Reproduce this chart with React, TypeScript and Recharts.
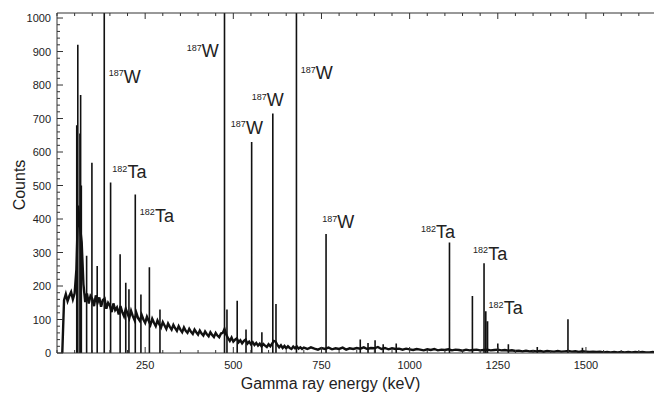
import React from 'react';
import { ComposedChart, Line, Scatter, XAxis, YAxis, Label } from 'recharts';

// Background continuum: counts every 5 keV from 15 keV to 695 keV
const lowStartKeV = 15;
const lowStepKeV = 5;
const lowCounts = [
  0, 158, 176, 155, 170, 182, 160, 178, 250, 440, 380, 330, 205, 152, 178, 148,
  170, 162, 140, 172, 150, 166, 138, 158, 162, 132, 150, 142, 122, 148, 128, 136,
  115, 140, 122, 110, 132, 118, 104, 126, 110, 98, 120, 104, 96, 114, 100, 90,
  108, 96, 84, 102, 90, 80, 97, 86, 76, 92, 82, 72, 88, 78, 70, 84,
  74, 66, 80, 70, 62, 76, 66, 60, 72, 63, 57, 70, 62, 55, 67, 58,
  52, 64, 56, 50, 62, 54, 48, 60, 52, 47, 58, 60, 72, 55, 44, 36,
  46, 34, 40, 44, 32, 38, 29, 36, 40, 28, 34, 26, 32, 24, 30, 22,
  28, 20, 27, 22, 18, 26, 20, 28, 36, 34, 24, 17, 23, 15, 21, 14,
  20, 15, 12, 19, 14, 20, 13, 17, 12,
];

// Background continuum: counts every 10 keV from 700 keV to 1710 keV
const highStartKeV = 700;
const highStepKeV = 10;
const highCounts = [
  16, 12, 17, 13, 10, 15, 12, 16, 11, 14, 12, 16, 10, 14, 12, 15,
  13, 17, 12, 15, 14, 18, 12, 15, 11, 14, 12, 13, 10, 13, 11, 9,
  12, 10, 8, 11, 9, 12, 8, 10, 9, 11, 8, 10, 9, 7, 10, 8,
  9, 10, 8, 9, 10, 8, 9, 10, 8, 9, 7, 8, 6, 7, 5, 7,
  5, 6, 5, 6, 4, 6, 5, 4, 6, 4, 5, 6, 4, 5, 3, 5,
  4, 3, 4, 3, 4, 2, 3, 2, 3, 2, 3, 2, 3, 2, 3, 2,
  3, 2, 2, 3, 2, 2,
];

// Gamma / X-ray lines (keV) and their peak counts
const peakEnergies = [
  56, 59, 65, 67, 69, 84, 99, 114, 134, 152, 179, 195, 204, 222, 238, 262, 292,
  475, 482, 511, 536, 552, 581, 612, 621, 679, 763, 860, 882, 902, 925, 962,
  1113, 1178, 1211, 1216, 1221, 1250, 1280, 1362, 1449, 1490,
];
const peakCounts = [
  680, 920, 655, 770, 500, 290, 568, 260, 1200, 509, 295, 210, 190, 473, 175, 256, 130,
  1200, 130, 156, 70, 630, 62, 715, 146, 1200, 355, 40, 30, 38, 26, 28,
  330, 170, 268, 125, 95, 28, 26, 18, 101, 16,
];

// Isotope annotations
const labelMass = ['187', '182', '182', '187', '187', '187', '187', '187', '182', '182', '182'];
const labelElement = ['W', 'Ta', 'Ta', 'W', 'W', 'W', 'W', 'W', 'Ta', 'Ta', 'Ta'];
const labelEnergy = [147, 157, 235, 368, 493, 552, 691, 752, 1032, 1180, 1224];
const labelCount = [807, 521, 392, 883, 654, 737, 817, 373, 342, 278, 116];

// Axis ticks
const xTicks = [
  0, 50, 100, 150, 200, 250, 300, 350, 400, 450, 500, 550, 600, 650, 700, 750, 800,
  850, 900, 950, 1000, 1050, 1100, 1150, 1200, 1250, 1300, 1350, 1400, 1450, 1500,
  1550, 1600, 1650, 1700,
];
const xLabelTicks = [250, 500, 750, 1000, 1250, 1500];
const yTicks = [
  0, 20, 40, 60, 80, 100, 120, 140, 160, 180, 200, 220, 240, 260, 280, 300, 320, 340,
  360, 380, 400, 420, 440, 460, 480, 500, 520, 540, 560, 580, 600, 620, 640, 660, 680,
  700, 720, 740, 760, 780, 800, 820, 840, 860, 880, 900, 920, 940, 960, 980, 1000,
];
const yLabelTicks = [0, 100, 200, 300, 400, 500, 600, 700, 800, 900, 1000];

const FONT = '"Liberation Sans", Arial, Helvetica, sans-serif';
const INK = '#222';
const AXIS = '#333';

const spectrum = [
  ...lowCounts.map((c, i) => ({ x: lowStartKeV + i * lowStepKeV, y: c })),
  ...highCounts.map((c, i) => ({ x: highStartKeV + i * highStepKeV, y: c })),
];

const peakLines: { x: number; y: number | null }[] = [];
peakEnergies.forEach((e, i) => {
  peakLines.push({ x: e, y: 0 });
  peakLines.push({ x: e, y: peakCounts[i] });
  peakLines.push({ x: e, y: null });
});

const annotations = labelEnergy.map((e, i) => ({
  x: e,
  y: labelCount[i],
  mass: labelMass[i],
  element: labelElement[i],
}));

const M = 5; // tick margin used to locate the axis line

const LeftTick = (p: any) => {
  const v = p.payload.value;
  const major = yLabelTicks.includes(v);
  const ax = p.x + M;
  return (
    <g>
      <line x1={ax} x2={ax + (major ? 6 : 3)} y1={p.y} y2={p.y} stroke={AXIS} strokeWidth={1} />
      {major && (
        <text x={p.x - 1} y={p.y} dy={4} textAnchor="end" fontSize={11} fontFamily={FONT} fill={INK}>
          {v}
        </text>
      )}
    </g>
  );
};

const RightTick = (p: any) => {
  const v = p.payload.value;
  const major = yLabelTicks.includes(v);
  const ax = p.x - M;
  return <line x1={ax} x2={ax - (major ? 6 : 3)} y1={p.y} y2={p.y} stroke={AXIS} strokeWidth={1} />;
};

const BottomTick = (p: any) => {
  const v = p.payload.value;
  const major = xLabelTicks.includes(v);
  const ay = p.y - M;
  return (
    <g>
      <line x1={p.x} x2={p.x} y1={ay} y2={ay - (major ? 6 : 3)} stroke={AXIS} strokeWidth={1} />
      {major && (
        <text x={p.x} y={ay + 16} textAnchor="middle" fontSize={11} fontFamily={FONT} fill={INK}>
          {v}
        </text>
      )}
    </g>
  );
};

const TopTick = (p: any) => {
  const v = p.payload.value;
  const major = xLabelTicks.includes(v);
  const ay = p.y + M;
  return <line x1={p.x} x2={p.x} y1={ay} y2={ay + (major ? 6 : 3)} stroke={AXIS} strokeWidth={1} />;
};

const IsotopeLabel = (p: any) => {
  const { cx, cy, payload } = p;
  if (cx == null || cy == null) return null;
  return (
    <text x={cx} y={cy} fill={INK} fontFamily={FONT}>
      <tspan fontSize={9} dy={-6.5}>{payload.mass}</tspan>
      <tspan fontSize={18} dy={6.5}>{payload.element}</tspan>
    </text>
  );
};

export default function App() {
  return (
    <div style={{ width: 654, height: 391, background: '#fff' }}>
      <ComposedChart
        width={654}
        height={391}
        margin={{ top: 4, right: 1, bottom: 6, left: 9 }}
      >
        <XAxis
          dataKey="x"
          type="number"
          domain={[0, 1710]}
          allowDataOverflow
          ticks={xTicks}
          interval={0}
          tickSize={0}
          tickMargin={M}
          tick={<BottomTick />}
          tickLine={false}
          axisLine={{ stroke: AXIS, strokeWidth: 1 }}
          height={40}
        >
          <Label
            content={(lp: any) => {
              const vb = lp.viewBox;
              return (
                <text
                  x={vb.x + vb.width / 2 - 28}
                  y={vb.y + 36}
                  textAnchor="middle"
                  fontSize={16}
                  fontFamily={FONT}
                  fill={INK}
                >
                  Gamma ray energy (keV)
                </text>
              );
            }}
          />
        </XAxis>
        <XAxis
          xAxisId="top"
          orientation="top"
          dataKey="x"
          type="number"
          domain={[0, 1710]}
          allowDataOverflow
          ticks={xTicks}
          interval={0}
          tickSize={0}
          tickMargin={M}
          tick={<TopTick />}
          tickLine={false}
          axisLine={{ stroke: AXIS, strokeWidth: 1 }}
          height={1}
        />
        <YAxis
          type="number"
          domain={[0, 1015]}
          allowDataOverflow
          ticks={yTicks}
          interval={0}
          tickSize={0}
          tickMargin={M}
          tick={<LeftTick />}
          tickLine={false}
          axisLine={{ stroke: AXIS, strokeWidth: 1 }}
          width={40}
        >
          <Label
            content={(lp: any) => {
              const vb = lp.viewBox;
              const cx = vb.x + 8;
              const cy = vb.y + vb.height / 2 + 2;
              return (
                <text
                  x={cx}
                  y={cy}
                  transform={`rotate(-90 ${cx} ${cy})`}
                  textAnchor="middle"
                  fontSize={16}
                  fontFamily={FONT}
                  fill={INK}
                >
                  Counts
                </text>
              );
            }}
          />
        </YAxis>
        <YAxis
          yAxisId="right"
          orientation="right"
          type="number"
          domain={[0, 1015]}
          allowDataOverflow
          ticks={yTicks}
          interval={0}
          tickSize={0}
          tickMargin={M}
          tick={<RightTick />}
          tickLine={false}
          axisLine={{ stroke: AXIS, strokeWidth: 1 }}
          width={1}
        />
        <Line
          data={spectrum}
          dataKey="y"
          stroke="#111"
          strokeWidth={2.4}
          dot={false}
          activeDot={false}
          isAnimationActive={false}
        />
        <Line
          data={peakLines}
          dataKey="y"
          stroke="#111"
          strokeWidth={1.6}
          dot={false}
          activeDot={false}
          connectNulls={false}
          isAnimationActive={false}
        />
        <Scatter
          data={annotations}
          dataKey="y"
          shape={<IsotopeLabel />}
          isAnimationActive={false}
        />
      </ComposedChart>
    </div>
  );
}
